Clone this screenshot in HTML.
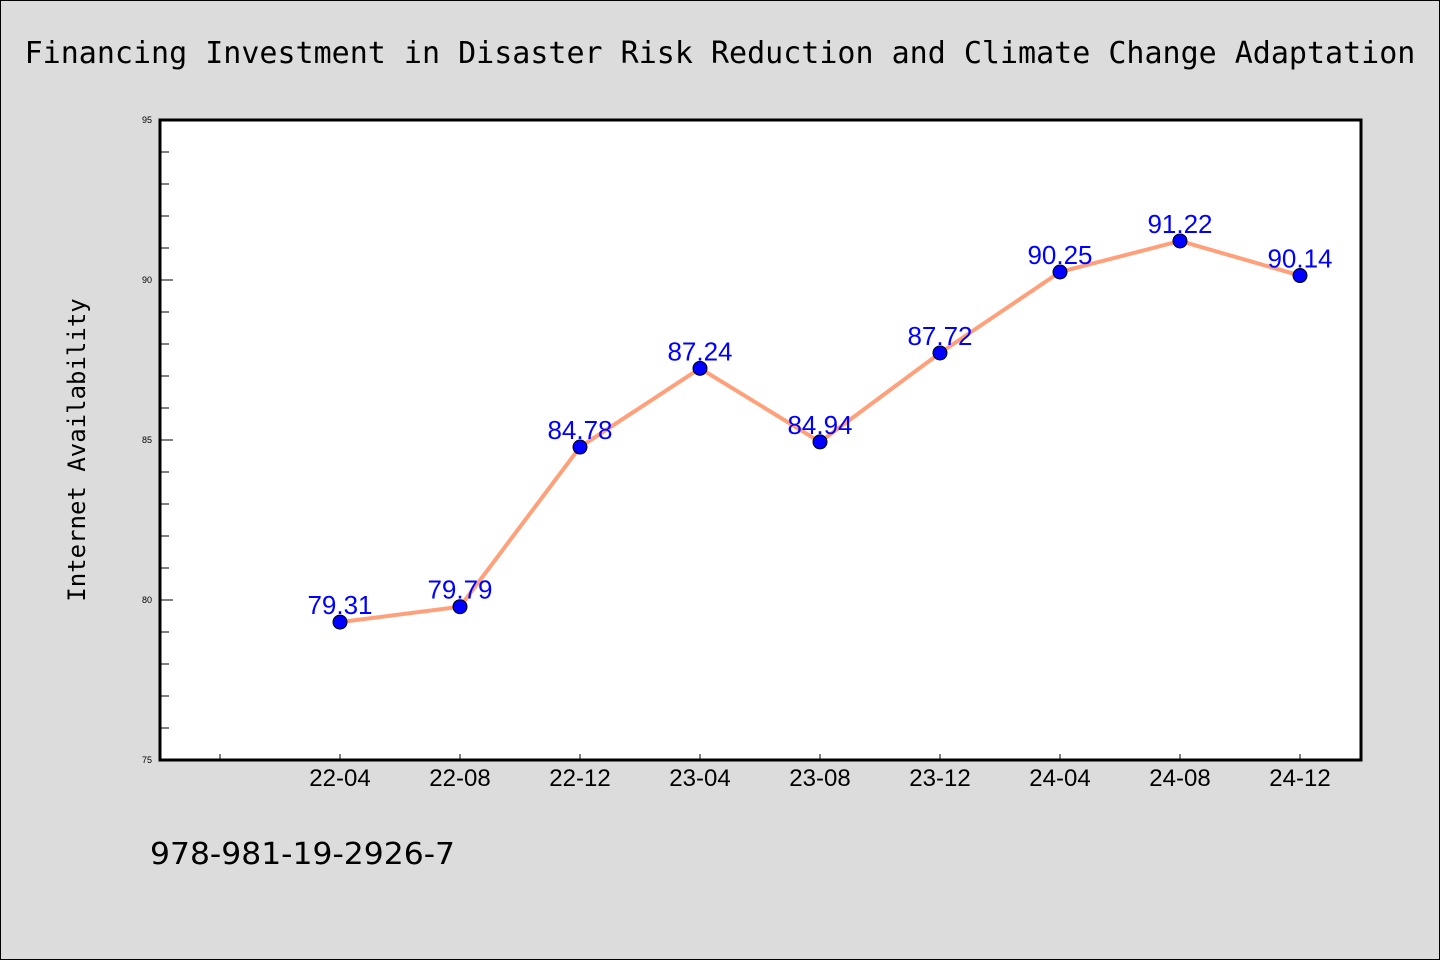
<!DOCTYPE html>
<html><head><meta charset="utf-8"><style>
html,body{margin:0;padding:0;background:#dcdcdc;}
svg{display:block;font-family:"Liberation Sans","DejaVu Sans",sans-serif;}
</style></head><body>
<svg id="chart" width="1440" height="960" xmlns="http://www.w3.org/2000/svg">
<rect x="0.5" y="0.5" width="1439" height="959" fill="#dcdcdc" stroke="#000"/>
<text x="720" y="63" text-anchor="middle" font-size="30" font-family="'DejaVu Sans Mono','Liberation Mono',monospace" fill="#000">Financing Investment in Disaster Risk Reduction and Climate Change Adaptation</text>
<rect x="160" y="120" width="1201" height="640" fill="#fff"/>
<text x="0" y="0" transform="translate(85,450) rotate(-90)" text-anchor="middle" font-size="24" font-family="'DejaVu Sans Mono','Liberation Mono',monospace" fill="#000">Internet Availability</text>
<text x="150" y="864" font-size="30" textLength="305" lengthAdjust="spacingAndGlyphs" font-family="'DejaVu Sans','Liberation Sans',sans-serif" fill="#000">978-981-19-2926-7</text>
<g id="axes"></g>
<g id="marks"></g>
<rect x="160" y="120" width="1201" height="640" fill="none" stroke="#000" stroke-width="3"/>
</svg>
<script>
const categories = ["22-04","22-08","22-12","23-04","23-08","23-12","24-04","24-08","24-12"];
const values = [79.31,79.79,84.78,87.24,84.94,87.72,90.25,91.22,90.14];
const valueLabels = ["79.31","79.79","84.78","87.24","84.94","87.72","90.25","91.22","90.14"];
const yTicks = [75,80,85,90,95];
const NS="http://www.w3.org/2000/svg";
const yMin=75,yMax=95,plotTop=120,plotBottom=760;
function yScale(v){return plotBottom-(v-yMin)/(yMax-yMin)*(plotBottom-plotTop);}
function xScale(i){return 340+120*i;}
const axes=document.getElementById('axes'),marks=document.getElementById('marks');
function mk(tag,attrs,parent){const e=document.createElementNS(NS,tag);for(const k in attrs)e.setAttribute(k,attrs[k]);parent.appendChild(e);return e;}
for(let v=yMin;v<=yMax;v++){
  const major=yTicks.includes(v);
  const t=mk('line',{x1:160,x2:major?173:169,y1:yScale(v),y2:yScale(v),stroke:'#000','stroke-width':1},axes);
  
  
}
yTicks.forEach(v=>{
  const t=mk('text',{x:152,y:yScale(v)+3,'text-anchor':'end','font-size':9,fill:'#000'},axes);
  t.textContent=v;
  
  
});
const extra=mk('line',{x1:xScale(-1),x2:xScale(-1),y1:plotBottom,y2:plotBottom-6,stroke:'#000','stroke-width':1},axes);


categories.forEach((c,i)=>{
  const t=mk('line',{x1:xScale(i),x2:xScale(i),y1:plotBottom,y2:plotBottom-6,stroke:'#000','stroke-width':1},axes);
  
  
  const l=mk('text',{x:xScale(i),y:plotBottom+26,'text-anchor':'middle','font-size':24,fill:'#000'},axes);
  l.textContent=c;
  
  
});
const line=mk('polyline',{points:values.map((v,i)=>xScale(i)+','+yScale(v)).join(' '),fill:'none',stroke:'#ffa07a','stroke-width':4},marks);


values.forEach((v,i)=>{
  const c=mk('circle',{cx:xScale(i),cy:yScale(v),r:7,fill:'#0000ff',stroke:'#000','stroke-width':1},marks);
  
  
  const t=mk('text',{x:xScale(i),y:yScale(v)-8,'text-anchor':'middle','font-size':26,fill:'#0000ff'},marks);
  t.textContent=valueLabels[i];
  
  
});
</script>
</body></html>
